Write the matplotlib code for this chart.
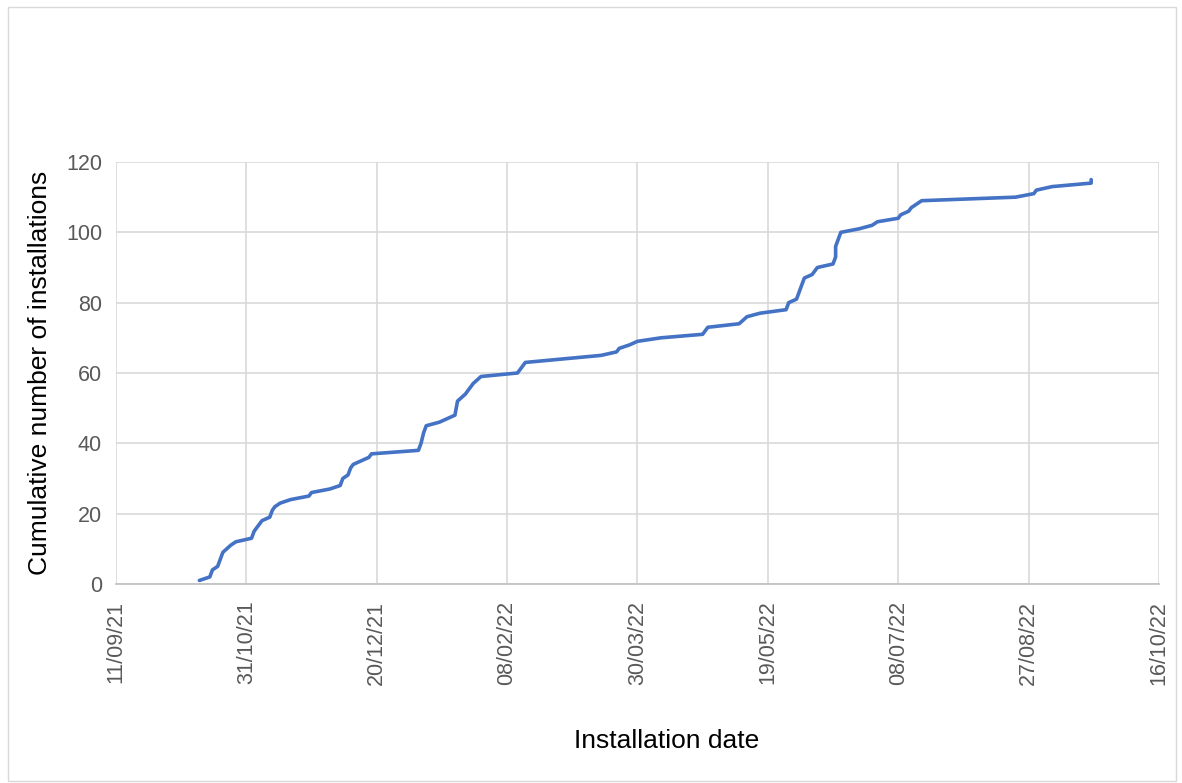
import pandas as pd
import matplotlib
matplotlib.use("Agg")
import matplotlib.pyplot as plt
import matplotlib.dates as mdates
from matplotlib.patches import Rectangle

# installation dates and running totals
install_dates = [
    "2021-10-13", "2021-10-17", "2021-10-18", "2021-10-20", "2021-10-21",
    "2021-10-22", "2021-10-25", "2021-10-27", "2021-11-02", "2021-11-03",
    "2021-11-05", "2021-11-06", "2021-11-09", "2021-11-10", "2021-11-11",
    "2021-11-13", "2021-11-17", "2021-11-24", "2021-11-25", "2021-12-02",
    "2021-12-06", "2021-12-07", "2021-12-09", "2021-12-10", "2021-12-11",
    "2021-12-14", "2021-12-17", "2021-12-18", "2022-01-05", "2022-01-06",
    "2022-01-07", "2022-01-08", "2022-01-13", "2022-01-19", "2022-01-20",
    "2022-01-23", "2022-01-24", "2022-01-26", "2022-01-29", "2022-02-12",
    "2022-02-14", "2022-02-15", "2022-03-16", "2022-03-22", "2022-03-23",
    "2022-03-27", "2022-03-30", "2022-04-08", "2022-04-24", "2022-04-26",
    "2022-05-08", "2022-05-11", "2022-05-16", "2022-05-26", "2022-05-27",
    "2022-05-30", "2022-05-31", "2022-06-01", "2022-06-02", "2022-06-05",
    "2022-06-07", "2022-06-13", "2022-06-14", "2022-06-14", "2022-06-15",
    "2022-06-16", "2022-06-23", "2022-06-28", "2022-06-30", "2022-07-08",
    "2022-07-09", "2022-07-12", "2022-07-13", "2022-07-17", "2022-08-22",
    "2022-08-29", "2022-08-30", "2022-09-05", "2022-09-20", "2022-09-20",
]
cumulative = [
    1, 2, 4, 5, 7,
    9, 11, 12, 13, 15,
    17, 18, 19, 21, 22,
    23, 24, 25, 26, 27,
    28, 30, 31, 33, 34,
    35, 36, 37, 38, 40,
    43, 45, 46, 48, 52,
    54, 55, 57, 59, 60,
    62, 63, 65, 66, 67,
    68, 69, 70, 71, 73,
    74, 76, 77, 78, 80,
    81, 83, 85, 87, 88,
    90, 91, 93, 96, 98,
    100, 101, 102, 103, 104,
    105, 106, 107, 109, 110,
    111, 112, 113, 114, 115,
]

x_start = "2021-09-11"
x_end = "2022-10-16"
tick_step_days = 50


def main():
    plt.rcParams["font.family"] = ["Liberation Sans", "DejaVu Sans"]

    dates = pd.to_datetime(install_dates)
    start = pd.Timestamp(x_start)
    end = pd.Timestamp(x_end)
    ticks = pd.date_range(start, end, freq=f"{tick_step_days}D")

    fig = plt.figure(figsize=(11.82, 7.83), dpi=100)
    fig.patches.append(Rectangle((0.007, 0.003), 0.988, 0.988, transform=fig.transFigure,
                                 fill=False, edgecolor="#d9d9d9", linewidth=1))
    ax = fig.add_axes([0.0981, 0.2542, 0.8824, 0.5389])

    ax.plot(dates, cumulative, color="#4472C4", linewidth=2.6, solid_capstyle="round",
            solid_joinstyle="round")

    ax.set_xlim(start, end)
    ax.set_ylim(0, 120)
    ax.set_xticks(ticks)
    ax.xaxis.set_major_formatter(mdates.DateFormatter("%d/%m/%y"))
    ax.set_yticks(range(0, 121, 20))

    ax.grid(True, color="#d9d9d9", linewidth=1.2)
    ax.set_axisbelow(True)
    for side in ["top", "right", "left"]:
        ax.spines[side].set_visible(False)
    ax.spines["bottom"].set_color("#bfbfbf")
    ax.spines["bottom"].set_linewidth(1.2)

    ax.tick_params(axis="both", length=0, colors="#595959", labelsize=15.5)
    ax.tick_params(axis="x", pad=12)
    ax.tick_params(axis="y", pad=10)
    plt.setp(ax.get_xticklabels(), rotation=90)

    ax.set_ylabel("Cumulative number of installations", fontsize=19, color="black", labelpad=10)
    fig.text(0.564, 0.054, "Installation date", fontsize=19, ha="center", va="center")

    fig.savefig("out.png", dpi=100)


if __name__ == "__main__":
    main()
